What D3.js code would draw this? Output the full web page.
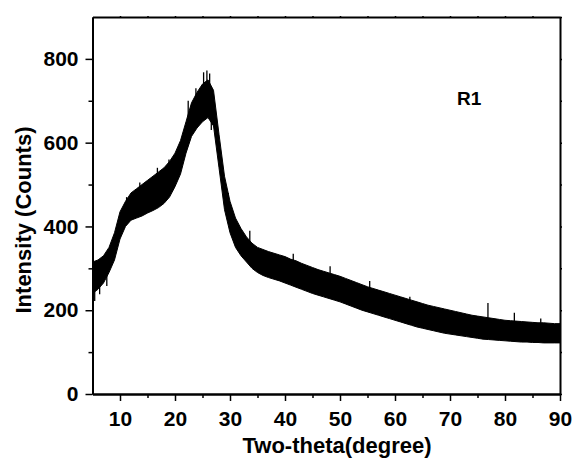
<!DOCTYPE html>
<html>
<head>
<meta charset="utf-8">
<script src="https://cdn.jsdelivr.net/npm/d3@7"></script>
<style>
  body { margin: 0; background: #fff; }
  text { font-family: "Liberation Sans", Arial, sans-serif; font-weight: bold; fill: #000; }
</style>
</head>
<body>
<div id="chart"></div>
<script>
// two-theta grid (1 degree steps) and the noise band
var twoTheta = d3.range(5, 91);
var lowEdge = [240,250,265,290,320,370,400,415,420,425,432,438,445,455,470,495,525,575,615,635,
               650,660,640,540,440,385,350,330,315,300,290,283,278,274,270,265,260,255,250,245,
               240,236,232,228,224,220,215,210,205,200,196,192,188,184,180,176,172,168,164,160,
               157,154,151,148,145,143,141,139,137,135,133,131,130,129,128,127,126,125,124,124,
               123,123,122,122,122,122];
var highEdge = [315,320,330,350,385,435,460,480,490,500,510,520,530,540,555,575,605,650,695,720,
                740,750,725,620,520,460,420,395,375,360,350,345,340,336,332,328,322,318,312,307,
                302,297,293,289,285,281,276,271,266,261,256,252,248,244,240,236,232,228,224,220,
                216,212,209,206,203,200,197,194,191,188,186,184,182,180,178,176,175,174,173,172,
                171,170,170,169,168,168];
// isolated noise spikes: [two-theta, tip, base]
var spikes = [[5.4,222,270],[6.3,238,270],[7.6,258,300],[11.2,470,440],[13.6,505,470],[16.8,540,500],
              [18.9,560,520],[22.4,700,650],[23.8,730,690],[25.2,768,720],[25.8,772,720],[26.3,765,720],
              [26.6,630,680],[29.7,480,440],[33.6,390,350],[41.5,335,300],[48.2,305,270],
              [55.4,270,230],[62.7,232,195],[76.9,217,180],[81.7,194,160],[86.5,180,150]];

var xTicks = [10,20,30,40,50,60,70,80,90];
var yTicks = [0,200,400,600,800];

(function() {
  var width = 576, height = 463;
  var pLeft = 92.5, pRight = 560, pTop = 17, pBottom = 394;

  var svg = d3.select("#chart").append("svg")
      .attr("width", width)
      .attr("height", height);

  var x = d3.scaleLinear().domain([5, 90]).range([pLeft, pRight]);
  var y = d3.scaleLinear().domain([0, 900]).range([pBottom, pTop]);

  // data band
  var area = d3.area()
      .x(function(d, i) { return x(twoTheta[i]); })
      .y0(function(d, i) { return y(lowEdge[i]); })
      .y1(function(d, i) { return y(highEdge[i]); });

  svg.append("path")
      .datum(twoTheta)
      .attr("d", area)
      .attr("fill", "#000")
      .attr("stroke", "#000")
      .attr("stroke-width", 1);

  svg.selectAll(".spike")
      .data(spikes)
      .enter().append("line")
      .attr("x1", function(d) { return x(d[0]); })
      .attr("x2", function(d) { return x(d[0]); })
      .attr("y1", function(d) { return y(d[1]); })
      .attr("y2", function(d) { return y(d[2]); })
      .attr("stroke", "#000")
      .attr("stroke-width", 1.3);

  // axes
  svg.append("g")
      .attr("transform", "translate(0," + pBottom + ")")
      .call(d3.axisBottom(x).tickValues(xTicks).tickSize(7).tickPadding(10).tickSizeOuter(0));

  svg.append("g")
      .attr("transform", "translate(0," + pBottom + ")")
      .call(d3.axisBottom(x).tickValues(d3.range(15, 90, 10)).tickSize(4).tickFormat("").tickSizeOuter(0));

  svg.append("g")
      .attr("transform", "translate(" + pLeft + ",0)")
      .call(d3.axisLeft(y).tickValues(yTicks).tickSize(7).tickPadding(7).tickSizeOuter(0));

  svg.append("g")
      .attr("transform", "translate(" + pLeft + ",0)")
      .call(d3.axisLeft(y).tickValues([100,300,500,700]).tickSize(4).tickFormat("").tickSizeOuter(0));

  svg.append("g")
      .attr("transform", "translate(" + pRight + ",0)")
      .call(d3.axisRight(y).tickValues(d3.range(0, 901, 100)).tickSize(2).tickFormat("").tickSizeOuter(0));

  svg.append("g")
      .attr("transform", "translate(0," + pTop + ")")
      .call(d3.axisTop(x).tickValues(d3.range(10, 90, 5)).tickSize(1).tickFormat("").tickSizeOuter(0));

  svg.selectAll(".domain").attr("stroke", "#000").attr("stroke-width", 2);
  svg.selectAll(".tick line").attr("stroke", "#000").attr("stroke-width", 1.5);
  svg.selectAll(".tick text")
      .attr("font-size", 21)
      .style("font-size", "21px")
      .style("font-weight", "bold")
      .style("font-family", "'Liberation Sans', Arial, sans-serif");

  svg.append("text")
      .attr("x", 337)
      .attr("y", 453)
      .attr("text-anchor", "middle")
      .style("font-size", "22px")
      .text("Two-theta(degree)");

  svg.append("text")
      .attr("transform", "translate(31,220) rotate(-90)")
      .attr("text-anchor", "middle")
      .style("font-size", "22px")
      .text("Intensity (Counts)");

  svg.append("text")
      .attr("x", 457)
      .attr("y", 105)
      .style("font-size", "19px")
      .text("R1");
})();
</script>
</body>
</html>
